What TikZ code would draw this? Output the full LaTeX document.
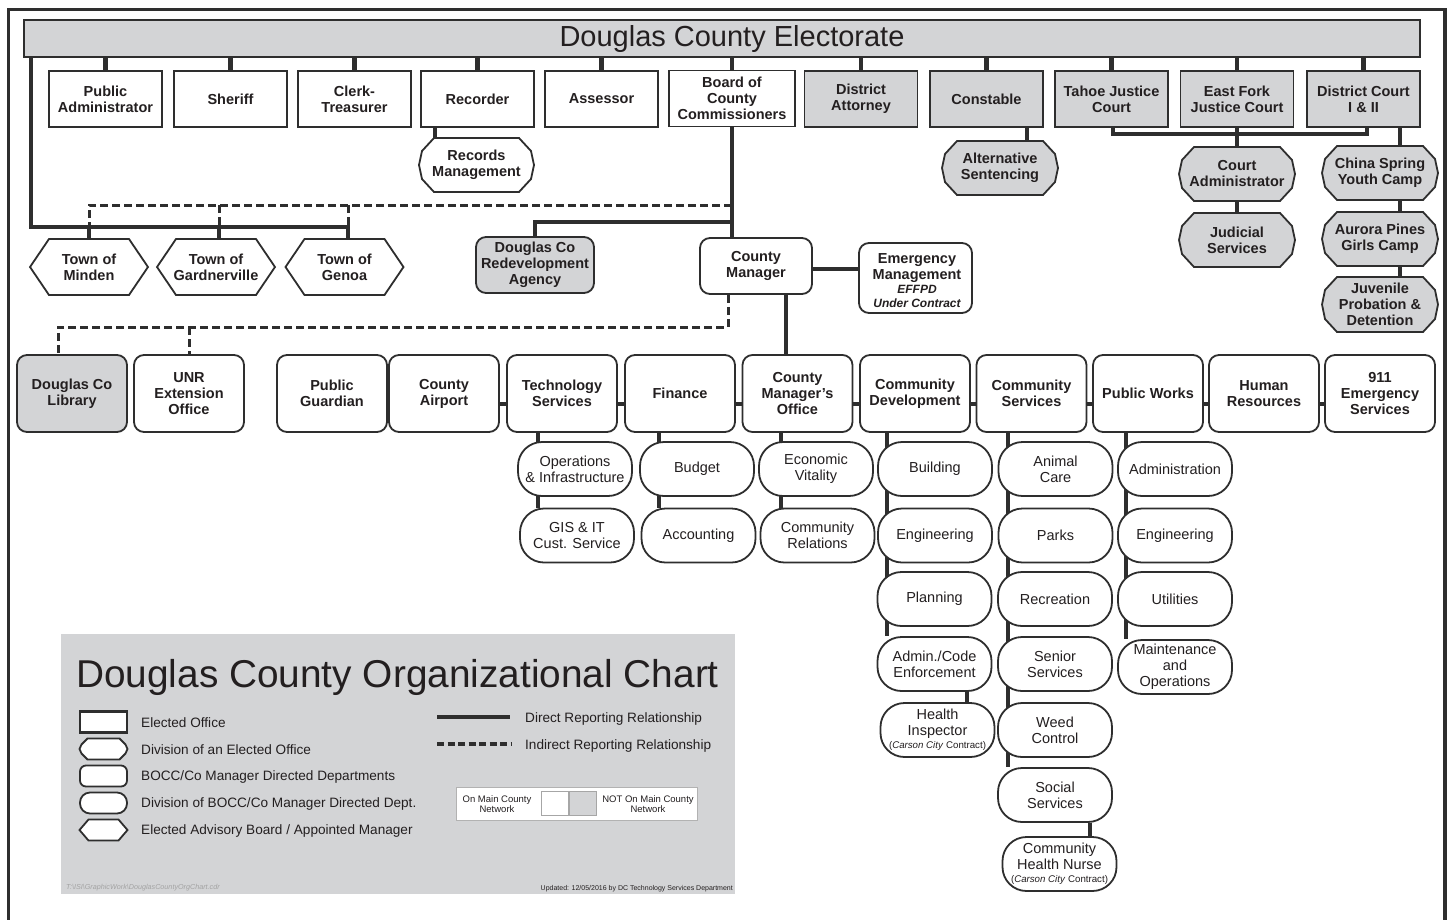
\documentclass[tikz,border=0pt]{standalone}
\usepackage{fontspec}
\setmainfont{Liberation Sans}
\usetikzlibrary{backgrounds,calc}
\definecolor{linec}{HTML}{2E2E2E}
\definecolor{grayf}{HTML}{D3D4D6}
\definecolor{textc}{HTML}{231F20}
\definecolor{pathc}{HTML}{A3A3A3}
\newcommand\smallcontract{{\fontsize{9.7}{10}\selectfont(\textit{Carson City} Contract)}}
% octagon-like shape: cx cy w h a b c fill
\newcommand\octshape[8]{%
  \pgfmathsetmacro\oxa{#1-#3/2}\pgfmathsetmacro\oxb{#1+#3/2}%
  \pgfmathsetmacro\oya{#2-#4/2}\pgfmathsetmacro\oyb{#2+#4/2}%
  \draw[bord,fill=#8] (\oxa+#5,\oya) -- (\oxb-#5,\oya) -- (\oxb-#7,\oya+#6) -- (\oxb,#2) -- (\oxb-#7,\oyb-#6) -- (\oxb-#5,\oyb) -- (\oxa+#5,\oyb) -- (\oxa+#7,\oyb-#6) -- (\oxa,#2) -- (\oxa+#7,\oya+#6) -- cycle;}
% hexagon: cx cy w h inset fill
\newcommand\hexshape[6]{%
  \pgfmathsetmacro\oxa{#1-#3/2}\pgfmathsetmacro\oxb{#1+#3/2}%
  \pgfmathsetmacro\oya{#2-#4/2}\pgfmathsetmacro\oyb{#2+#4/2}%
  \draw[bord,fill=#6] (\oxa+#5,\oya) -- (\oxb-#5,\oya) -- (\oxb,#2) -- (\oxb-#5,\oyb) -- (\oxa+#5,\oyb) -- (\oxa,#2) -- cycle;}
\begin{document}
\begin{tikzpicture}[x=1pt,y=-1pt,
 bord/.style={draw=linec,line width=1.8pt},
 lbl/.style={text=textc,align=center,inner sep=0pt,font=\bfseries\fontsize{14.5}{16}\selectfont},
 elected/.style={lbl,bord,fill=white,minimum width=113pt,minimum height=56pt},
 dept/.style={lbl,bord,fill=white,rounded corners=10pt,minimum width=110pt,minimum height=77pt},
 divn/.style={lbl,bord,fill=white,rounded corners=24pt,minimum width=114pt,minimum height=54pt,font=\fontsize{14.5}{16}\selectfont},
 conn/.style={draw=linec,line width=4.5pt},
 dconn/.style={draw=linec,line width=3pt,dash pattern=on 8pt off 4pt},
 legtxt/.style={anchor=west,inner sep=0pt,text=textc,font=\fontsize{13.6}{15}\selectfont},
 nettxt/.style={inner sep=0pt,text=textc,align=center,font=\fontsize{9.5}{10.5}\selectfont},
]
\useasboundingbox (0,0) rectangle (1450,919);
% frame
\draw[linec,line width=3.5pt] (8.5,930) -- (8.5,9.5) -- (1445,9.5) -- (1445,930);
% legend background
\fill[grayf] (61,634) rectangle (735,894);

% electorate
\node[bord,fill=grayf,minimum width=1396pt,minimum height=37pt,inner sep=0pt,text=textc,font=\fontsize{29}{30}\selectfont] (bar) at (722,38.5) {\hspace*{20pt}Douglas County Electorate};

% elected offices
\node[elected] (PA) at (105.5,99) {Public\\Administrator};
\node[elected] (SH) at (230.5,99) {Sheriff};
\node[elected] (CT) at (354.5,99) {Clerk-\\Treasurer};
\node[elected] (REC) at (477.5,99) {Recorder};
\node[elected] (ASR) at (601.5,99) {Assessor};
\node[elected,minimum width=126pt] (BOCC) at (732,98.5) {Board of\\County\\Commissioners};
\node[elected,fill=grayf] (DA) at (861,99) {District\\Attorney};
\node[elected,fill=grayf] (CON) at (986.5,99) {Constable};
\node[elected,fill=grayf] (TJC) at (1111.5,99) {Tahoe Justice\\Court};
\node[elected,fill=grayf] (EFJ) at (1237,99) {East Fork\\Justice Court};
\node[elected,fill=grayf] (DC) at (1363.5,99) {District Court\\I \& II};

% divisions of elected offices
\octshape{476.5}{165}{115}{54}{15}{13}{3}{white}
\node[lbl,minimum width=115pt,minimum height=54pt] (RM) at (476.5,165) {Records\\Management};
\octshape{1000}{168}{116}{54}{15}{13}{3}{grayf}
\node[lbl,minimum width=116pt,minimum height=54pt] (ALT) at (1000,168) {Alternative\\Sentencing};
\octshape{1237}{174}{116}{54}{15}{13}{3}{grayf}
\node[lbl,minimum width=116pt,minimum height=54pt] (CA) at (1237,174) {Court\\Administrator};
\octshape{1237}{240}{116}{54}{15}{13}{3}{grayf}
\node[lbl,minimum width=116pt,minimum height=54pt] (JS) at (1237,240) {Judicial\\Services};
\octshape{1380}{173}{116}{54}{15}{13}{3}{grayf}
\node[lbl,minimum width=116pt,minimum height=54pt] (CSY) at (1380,173) {China Spring\\Youth Camp};
\octshape{1380}{239}{116}{54}{15}{13}{3}{grayf}
\node[lbl,minimum width=116pt,minimum height=54pt] (APG) at (1380,239) {Aurora Pines\\Girls Camp};
\octshape{1380}{304.5}{116}{55}{15}{13}{3}{grayf}
\node[lbl,minimum width=116pt,minimum height=55pt] (JPD) at (1380,304.5) {Juvenile\\Probation \&\\Detention};

% towns
\hexshape{89}{267}{118}{56}{19}{white}
\node[lbl,minimum width=118pt,minimum height=56pt] (MIN) at (89,267) {Town of\\Minden};
\hexshape{216}{267}{118}{56}{19}{white}
\node[lbl,minimum width=118pt,minimum height=56pt] (GAR) at (216,267) {Town of\\Gardnerville};
\hexshape{344.5}{267}{118}{56}{19}{white}
\node[lbl,minimum width=118pt,minimum height=56pt] (GEN) at (344.5,267) {Town of\\Genoa};

% middle level
\node[dept,fill=grayf,minimum width=118pt,minimum height=56pt] (RDA) at (535,265) {Douglas Co\\Redevelopment\\Agency};
\node[dept,minimum width=112pt,minimum height=56pt] (CM) at (756,266) {County\\Manager};
\node[dept,minimum width=113pt,minimum height=70pt] (EM) at (915.5,278) {};
\node[lbl] (EMT) at (917,280.5) {Emergency\\Management\\[-2pt]{\fontsize{12}{13}\selectfont\itshape EFFPD}\\[-2pt]{\fontsize{12}{13}\selectfont\itshape Under Contract}};

% departments
\node[dept,fill=grayf] (LIB) at (72,393.5) {Douglas Co\\Library};
\node[dept] (UNR) at (189,393.5) {UNR\\Extension\\Office};
\node[dept] (PG) at (332,393.5) {Public\\Guardian};
\node[dept] (AIR) at (444,393.5) {County\\Airport};
\node[dept] (TS) at (562,393.5) {Technology\\Services};
\node[dept] (FIN) at (680,393.5) {Finance};
\node[dept] (CMO) at (797.5,393.5) {County\\Manager’s\\Office};
\node[dept] (CD) at (915,393.5) {Community\\Development};
\node[dept] (CS) at (1031.5,393.5) {Community\\Services};
\node[dept] (PW) at (1148,393.5) {Public Works};
\node[dept] (HR) at (1264,393.5) {Human\\Resources};
\node[dept] (EMS) at (1380,393.5) {911\\Emergency\\Services};

% divisions of departments
\node[divn] (OI) at (575,469) {Operations\\\& Infrastructure};
\node[divn] (GIS) at (577,535.5) {GIS \& IT\\Cust. Service};
\node[divn] (BUD) at (697,469) {Budget};
\node[divn] (ACC) at (698.5,535.5) {Accounting};
\node[divn] (EV) at (816,469) {Economic\\Vitality};
\node[divn] (CR) at (817.5,535.5) {Community\\Relations};
\node[divn] (BLD) at (935,469) {Building};
\node[divn] (ENG) at (935,535.5) {Engineering};
\node[divn] (PLN) at (934.5,599) {Planning};
\node[divn] (ACE) at (934.5,664) {Admin./Code\\Enforcement};
\node[divn] (HI) at (937.5,730) {Health\\Inspector\\[-3pt]\smallcontract};
\node[divn] (AC) at (1055.5,469) {Animal\\Care};
\node[divn] (PRK) at (1055.5,535.5) {Parks};
\node[divn] (RCR) at (1055,599) {Recreation};
\node[divn] (SEN) at (1055,664) {Senior\\Services};
\node[divn] (WC) at (1055,730) {Weed\\Control};
\node[divn] (SOC) at (1055,795) {Social\\Services};
\node[divn] (CHN) at (1059.5,864) {Community\\Health Nurse\\[-3pt]\smallcontract};
\node[divn] (PWA) at (1175,469) {Administration};
\node[divn] (PWE) at (1175,535.5) {Engineering};
\node[divn] (UT) at (1175,599) {Utilities};
\node[divn] (MO) at (1175,667) {Maintenance\\and\\Operations};

% connectors
\begin{pgfonlayer}{background}
\foreach \n in {PA,SH,CT,REC,ASR,BOCC,DA,CON,TJC,EFJ,DC}
  \draw[conn] (\n.north) -- (\n.north |- bar.south);
\coordinate (rmx) at (435,0);
\draw[conn] (REC.south -| rmx) -- (RM.north -| rmx);
\coordinate (alx) at (1027,0);
\draw[conn] (CON.south -| alx) -- (ALT.north -| alx);
\coordinate (K1) at (1113,134);
\coordinate (K2) at (1367,134);
\draw[conn] (TJC.south -| K1) -- (K1) -- (K2) -- (DC.south -| K2);
\draw[conn] (EFJ.south) -- (CA.north);
\draw[conn] (CA.south) -- (JS.north);
\coordinate (jx) at (1400,0);
\draw[conn] (DC.south -| jx) -- (JPD.north -| jx);
% towns
\coordinate (L1) at (31,227);
\coordinate (L2) at (348,227);
\coordinate (gx) at (219,0);
\draw[conn] (bar.south -| L1) -- (L1) -- (L2) -- (L2 |- GEN.north);
\draw[conn] (MIN.north) -- (MIN.north |- L1);
\draw[conn] (GAR.north -| gx) -- (L1 -| gx);
\coordinate (D1) at (89,205);
\draw[dconn] (BOCC.south |- D1) -- (D1) -- (D1 |- L1);
\draw[dconn] (D1 -| gx) -- (L1 -| gx);
\draw[dconn] (D1 -| L2) -- (L2);
% BOCC to county manager
\coordinate (B1) at (732,222);
\draw[conn] (BOCC.south) -- (BOCC.south |- CM.north);
\draw[conn] (B1) -- (B1 -| RDA.north) -- (RDA.north);
\coordinate (E1) at (0,269);
\draw[conn] (CM.east |- E1) -- (EM.west |- E1);
\coordinate (D2) at (728,327);
\coordinate (D3) at (58,327);
\draw[dconn] (CM.south -| D2) -- (D2) -- (D3) -- (D3 |- LIB.north);
\draw[dconn] (UNR.north |- D2) -- (UNR.north);
\coordinate (C1) at (786,0);
\draw[conn] (CM.south -| C1) -- (CMO.north -| C1);
% department row
\coordinate (H) at (0,404);
\foreach \a/\b in {PG/AIR,AIR/TS,TS/FIN,FIN/CMO,CMO/CD,CD/CS,CS/PW,PW/HR,HR/EMS}
  \draw[conn] (\a.east |- H) -- (\b.west |- H);
% division columns
\coordinate (x1) at (538,0);
\draw[conn] (TS.south -| x1) -- (GIS.north -| x1);
\coordinate (x2) at (659,0);
\draw[conn] (FIN.south -| x2) -- (ACC.north -| x2);
\coordinate (x3) at (781,0);
\draw[conn] (CMO.south -| x3) -- (CR.north -| x3);
\coordinate (x4) at (887,0);
\draw[conn] (CD.south -| x4) -- (ACE.north -| x4);
\coordinate (x5) at (967,0);
\draw[conn] (ACE.south -| x5) -- (HI.north -| x5);
\coordinate (x6) at (1008,0);
\draw[conn] (CS.south -| x6) -- (SOC.north -| x6);
\coordinate (x7) at (1090,0);
\draw[conn] (SOC.south -| x7) -- (CHN.north -| x7);
\coordinate (x8) at (1126,0);
\draw[conn] (PW.south -| x8) -- (MO.north -| x8);
\end{pgfonlayer}

% legend
\node[anchor=base west,inner sep=0pt,text=textc,font=\fontsize{38.8}{40}\selectfont] (LT) at (76,687) {Douglas County Organizational Chart};
\node[draw=linec,line width=2.4pt,fill=white,minimum width=47pt,minimum height=21pt,inner sep=0pt] (LS1) at (103.5,722) {};
\octshape{103.5}{749}{48}{21}{8}{6}{2}{white}
\node[inner sep=0pt,minimum width=48pt,minimum height=21pt] (LS2) at (103.5,749) {};
\node[bord,fill=white,rounded corners=6pt,minimum width=47pt,minimum height=21pt,inner sep=0pt] (LS3) at (103.5,776) {};
\node[bord,fill=white,rounded corners=10pt,minimum width=47pt,minimum height=21pt,inner sep=0pt] (LS4) at (103.5,803) {};
\hexshape{103.5}{830}{48}{21}{9}{white}
\node[inner sep=0pt,minimum width=48pt,minimum height=21pt] (LS5) at (103.5,830) {};
\node[legtxt] (LT1) at (141,722.5) {Elected Office};
\node[legtxt] (LT2) at (141,749.5) {Division of an Elected Office};
\node[legtxt] (LT3) at (141,776.5) {BOCC/Co Manager Directed Departments};
\node[legtxt] (LT4) at (141,803.5) {Division of BOCC/Co Manager Directed Dept.};
\node[legtxt] (LT5) at (141,830.5) {Elected Advisory Board / Appointed Manager};
\coordinate (LA1) at (437,717);
\coordinate (LA2) at (510,717);
\draw[draw=linec,line width=4.5pt] (LA1) -- (LA2);
\coordinate (LB1) at (437,744);
\coordinate (LB2) at (511,744);
\draw[draw=linec,line width=4pt,dash pattern=on 7pt off 3.5pt] (LB1) -- (LB2);
\node[legtxt] (LT6) at (525,718.5) {Direct Reporting Relationship};
\node[legtxt] (LT7) at (525,745.5) {Indirect Reporting Relationship};
\node[draw=gray!60,line width=0.6pt,fill=white,minimum width=241pt,minimum height=33pt,inner sep=0pt] (NB) at (576.5,803.5) {};
\node[nettxt] (NT1) at (497,804) {On Main County\\Network};
\node[draw=gray!70,line width=0.6pt,fill=white,minimum width=27pt,minimum height=24pt,inner sep=0pt] (SQ1) at (555,803) {};
\node[draw=gray!70,line width=0.6pt,fill=grayf,minimum width=27pt,minimum height=24pt,inner sep=0pt,anchor=west] (SQ2) at (SQ1.east) {};
\node[nettxt] (NT2) at (648,804) {NOT On Main County\\Network};
\node[anchor=west,inner sep=0pt,text=pathc,font=\itshape\fontsize{7.2}{8}\selectfont] (PTH) at (66,888) {T:\textbackslash ISI\textbackslash GraphicWork\textbackslash DouglasCountyOrgChart.cdr};
\node[anchor=east,inner sep=0pt,text=textc,font=\fontsize{7}{8}\selectfont] (UPD) at (733,889) {Updated: 12/05/2016 by DC Technology Services Department};
\end{tikzpicture}
\end{document}
